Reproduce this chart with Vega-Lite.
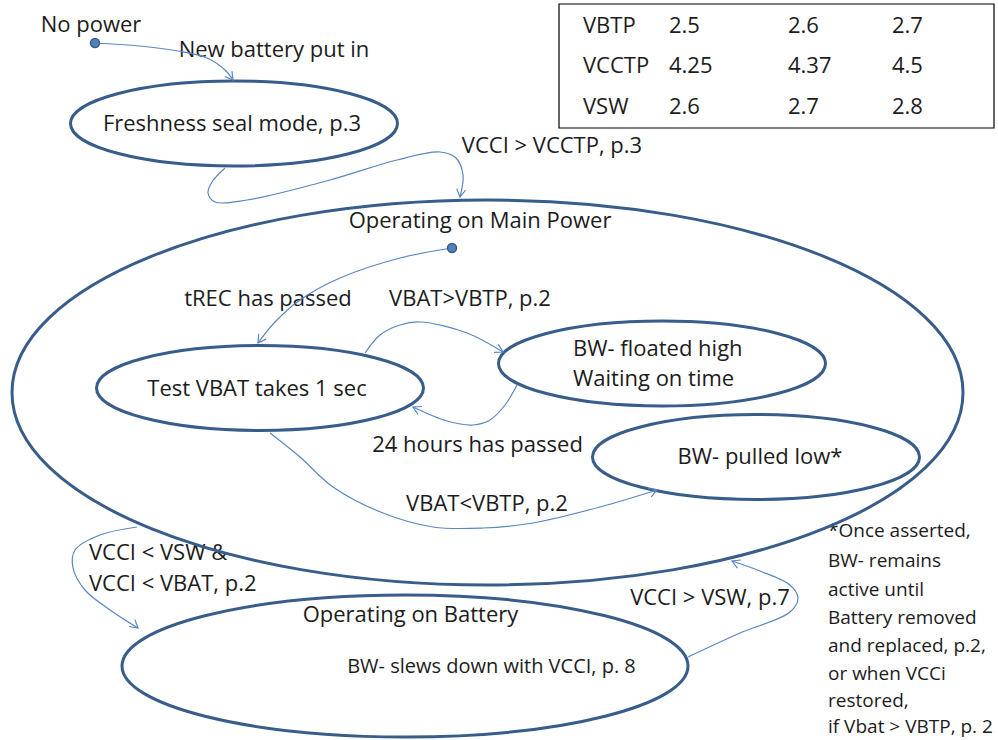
{
  "$schema": "https://vega.github.io/schema/vega-lite/v6.json",
  "width": 998,
  "height": 740,
  "autosize": {"type": "none"},
  "padding": 0,
  "background": "white",
  "config": {"view": {"stroke": null}},
  "datasets": {
    "states": [
      {"state": "Freshness seal mode", "x": 234, "y": 123.5},
      {"state": "Operating on Main Power", "x": 487.5, "y": 392.5},
      {"state": "Test VBAT", "x": 260, "y": 388},
      {"state": "BW- floated high", "x": 662, "y": 363.5},
      {"state": "BW- pulled low", "x": 756, "y": 457},
      {"state": "Operating on Battery", "x": 405, "y": 666}
    ],
    "starts": [
      {"name": "No power", "x": 95, "y": 43},
      {"name": "Main power entry", "x": 452, "y": 248}
    ],
    "arrows": [
      {"arrow": "a1", "i": 0, "x": 95, "y": 43},
      {"arrow": "a1", "i": 1, "x": 140, "y": 46},
      {"arrow": "a1", "i": 2, "x": 178, "y": 51},
      {"arrow": "a1", "i": 3, "x": 207, "y": 58},
      {"arrow": "a1", "i": 4, "x": 225, "y": 70},
      {"arrow": "a1", "i": 5, "x": 233, "y": 80},
      {"arrow": "a2", "i": 0, "x": 225, "y": 168},
      {"arrow": "a2", "i": 1, "x": 212, "y": 182},
      {"arrow": "a2", "i": 2, "x": 208, "y": 193},
      {"arrow": "a2", "i": 3, "x": 215, "y": 202},
      {"arrow": "a2", "i": 4, "x": 247, "y": 200},
      {"arrow": "a2", "i": 5, "x": 330, "y": 180},
      {"arrow": "a2", "i": 6, "x": 397, "y": 160},
      {"arrow": "a2", "i": 7, "x": 440, "y": 152},
      {"arrow": "a2", "i": 8, "x": 456, "y": 158},
      {"arrow": "a2", "i": 9, "x": 463, "y": 175},
      {"arrow": "a2", "i": 10, "x": 460, "y": 197},
      {"arrow": "a3", "i": 0, "x": 452, "y": 248},
      {"arrow": "a3", "i": 1, "x": 400, "y": 258},
      {"arrow": "a3", "i": 2, "x": 340, "y": 278},
      {"arrow": "a3", "i": 3, "x": 300, "y": 300},
      {"arrow": "a3", "i": 4, "x": 275, "y": 322},
      {"arrow": "a3", "i": 5, "x": 258, "y": 343},
      {"arrow": "a4", "i": 0, "x": 365, "y": 353},
      {"arrow": "a4", "i": 1, "x": 380, "y": 335},
      {"arrow": "a4", "i": 2, "x": 400, "y": 325},
      {"arrow": "a4", "i": 3, "x": 420, "y": 322},
      {"arrow": "a4", "i": 4, "x": 467, "y": 333},
      {"arrow": "a4", "i": 5, "x": 503, "y": 352},
      {"arrow": "a5", "i": 0, "x": 517, "y": 385},
      {"arrow": "a5", "i": 1, "x": 505, "y": 405},
      {"arrow": "a5", "i": 2, "x": 490, "y": 420},
      {"arrow": "a5", "i": 3, "x": 473, "y": 425},
      {"arrow": "a5", "i": 4, "x": 447, "y": 421},
      {"arrow": "a5", "i": 5, "x": 413, "y": 407},
      {"arrow": "a6", "i": 0, "x": 270, "y": 433},
      {"arrow": "a6", "i": 1, "x": 300, "y": 457},
      {"arrow": "a6", "i": 2, "x": 333, "y": 487},
      {"arrow": "a6", "i": 3, "x": 383, "y": 513},
      {"arrow": "a6", "i": 4, "x": 433, "y": 527},
      {"arrow": "a6", "i": 5, "x": 483, "y": 528},
      {"arrow": "a6", "i": 6, "x": 533, "y": 523},
      {"arrow": "a6", "i": 7, "x": 600, "y": 507},
      {"arrow": "a6", "i": 8, "x": 657, "y": 490},
      {"arrow": "a7", "i": 0, "x": 137, "y": 527},
      {"arrow": "a7", "i": 1, "x": 100, "y": 535},
      {"arrow": "a7", "i": 2, "x": 75, "y": 550},
      {"arrow": "a7", "i": 3, "x": 73, "y": 568},
      {"arrow": "a7", "i": 4, "x": 85, "y": 590},
      {"arrow": "a7", "i": 5, "x": 110, "y": 610},
      {"arrow": "a7", "i": 6, "x": 138, "y": 628},
      {"arrow": "a8", "i": 0, "x": 688, "y": 657},
      {"arrow": "a8", "i": 1, "x": 740, "y": 633},
      {"arrow": "a8", "i": 2, "x": 790, "y": 612},
      {"arrow": "a8", "i": 3, "x": 798, "y": 598},
      {"arrow": "a8", "i": 4, "x": 790, "y": 585},
      {"arrow": "a8", "i": 5, "x": 760, "y": 571},
      {"arrow": "a8", "i": 6, "x": 732, "y": 561}
    ],
    "heads": [
      {"arrow": "a1", "i": 0, "x": 231.9, "y": 71.1},
      {"arrow": "a1", "i": 1, "x": 233, "y": 80},
      {"arrow": "a1", "i": 2, "x": 224.7, "y": 76.5},
      {"arrow": "a2", "i": 0, "x": 465.6, "y": 190},
      {"arrow": "a2", "i": 1, "x": 460, "y": 197},
      {"arrow": "a2", "i": 2, "x": 456.7, "y": 188.6},
      {"arrow": "a3", "i": 0, "x": 266.1, "y": 339.1},
      {"arrow": "a3", "i": 1, "x": 258, "y": 343},
      {"arrow": "a3", "i": 2, "x": 258.7, "y": 334},
      {"arrow": "a4", "i": 0, "x": 498.3, "y": 344.4},
      {"arrow": "a4", "i": 1, "x": 503, "y": 352},
      {"arrow": "a4", "i": 2, "x": 494, "y": 352.3},
      {"arrow": "a5", "i": 0, "x": 418, "y": 414.5},
      {"arrow": "a5", "i": 1, "x": 413, "y": 407},
      {"arrow": "a5", "i": 2, "x": 422, "y": 406.5},
      {"arrow": "a6", "i": 0, "x": 648.1, "y": 488.5},
      {"arrow": "a6", "i": 1, "x": 657, "y": 490},
      {"arrow": "a6", "i": 2, "x": 651.3, "y": 496.9},
      {"arrow": "a7", "i": 0, "x": 134.9, "y": 619.6},
      {"arrow": "a7", "i": 1, "x": 138, "y": 628},
      {"arrow": "a7", "i": 2, "x": 129.1, "y": 626.5},
      {"arrow": "a8", "i": 0, "x": 737.4, "y": 568.2},
      {"arrow": "a8", "i": 1, "x": 732, "y": 561},
      {"arrow": "a8", "i": 2, "x": 740.9, "y": 560}
    ],
    "centeredText": [
      {"label": "No power", "x": 91, "y": 32},
      {"label": "New battery put in", "x": 274, "y": 57},
      {"label": "Freshness seal mode, p.3", "x": 232, "y": 131},
      {"label": "VCCI > VCCTP, p.3", "x": 552, "y": 153},
      {"label": "Operating on Main Power", "x": 480, "y": 228},
      {"label": "tREC has passed", "x": 268, "y": 306},
      {"label": "VBAT>VBTP, p.2", "x": 470, "y": 306},
      {"label": "Test VBAT takes 1 sec", "x": 257, "y": 396},
      {"label": "24 hours has passed", "x": 477.5, "y": 452},
      {"label": "BW- pulled low*", "x": 760, "y": 464},
      {"label": "VBAT<VBTP, p.2", "x": 487, "y": 511},
      {"label": "Operating on Battery", "x": 410.5, "y": 622},
      {"label": "VCCI > VSW, p.7", "x": 710, "y": 605}
    ],
    "leftText": [
      {"label": "BW- floated high", "x": 573, "y": 356},
      {"label": "Waiting on time", "x": 573, "y": 386},
      {"label": "VCCI < VSW &", "x": 89, "y": 560},
      {"label": "VCCI < VBAT, p.2", "x": 89, "y": 591}
    ],
    "slewNote": [
      {"label": "BW- slews down with VCCI, p. 8", "x": 491.5, "y": 673}
    ],
    "footnote": [
      {"label": "*Once asserted,", "x": 828, "y": 537},
      {"label": "BW- remains", "x": 828, "y": 567},
      {"label": "active until", "x": 828, "y": 596},
      {"label": "Battery removed", "x": 828, "y": 624},
      {"label": "and replaced, p.2,", "x": 828, "y": 652},
      {"label": "or when VCCi", "x": 828, "y": 680},
      {"label": "restored,", "x": 828, "y": 707},
      {"label": "if Vbat > VBTP, p. 2", "x": 828, "y": 733}
    ],
    "tableBox": [
      {"x": 559, "x2": 994, "y": 4, "y2": 128}
    ],
    "tableCells": [
      {"label": "VBTP", "x": 583, "y": 33},
      {"label": "2.5", "x": 669, "y": 33},
      {"label": "2.6", "x": 788, "y": 33},
      {"label": "2.7", "x": 892, "y": 33},
      {"label": "VCCTP", "x": 583, "y": 73},
      {"label": "4.25", "x": 669, "y": 73},
      {"label": "4.37", "x": 788, "y": 73},
      {"label": "4.5", "x": 892, "y": 73},
      {"label": "VSW", "x": 583, "y": 114},
      {"label": "2.6", "x": 669, "y": 114},
      {"label": "2.7", "x": 788, "y": 114},
      {"label": "2.8", "x": 892, "y": 114}
    ]
  },
  "encoding": {
    "x": {"field": "x", "type": "quantitative", "scale": {"domain": [0, 998], "nice": false, "zero": false}, "axis": null},
    "y": {"field": "y", "type": "quantitative", "scale": {"domain": [0, 740], "nice": false, "zero": false, "reverse": true}, "axis": null}
  },
  "layer": [
    {
      "data": {"name": "tableBox"},
      "mark": {"type": "rect", "fill": null, "stroke": "#000000", "strokeWidth": 1.2},
      "encoding": {"x2": {"field": "x2"}, "y2": {"field": "y2"}}
    },
    {
      "data": {"name": "centeredText"},
      "mark": {"type": "text", "font": "Open Sans", "fontSize": 22, "align": "center", "baseline": "alphabetic", "color": "#1c1c1c"},
      "encoding": {"text": {"field": "label"}}
    },
    {
      "data": {"name": "leftText"},
      "mark": {"type": "text", "font": "Open Sans", "fontSize": 22, "align": "left", "baseline": "alphabetic", "color": "#1c1c1c"},
      "encoding": {"text": {"field": "label"}}
    },
    {
      "data": {"name": "tableCells"},
      "mark": {"type": "text", "font": "Open Sans", "fontSize": 22, "align": "left", "baseline": "alphabetic", "color": "#1c1c1c"},
      "encoding": {"text": {"field": "label"}}
    },
    {
      "data": {"name": "slewNote"},
      "mark": {"type": "text", "font": "Open Sans", "fontSize": 20, "align": "center", "baseline": "alphabetic", "color": "#1c1c1c"},
      "encoding": {"text": {"field": "label"}}
    },
    {
      "data": {"name": "footnote"},
      "mark": {"type": "text", "font": "Open Sans", "fontSize": 19, "align": "left", "baseline": "alphabetic", "color": "#1c1c1c"},
      "encoding": {"text": {"field": "label"}}
    },
    {
      "data": {"name": "states"},
      "mark": {"type": "point", "filled": false, "size": 4, "strokeWidth": 3, "color": "#385D8A", "opacity": 1},
      "encoding": {
        "shape": {
          "field": "state",
          "type": "nominal",
          "legend": null,
          "scale": {
            "domain": ["Freshness seal mode", "Operating on Main Power", "Test VBAT", "BW- floated high", "BW- pulled low", "Operating on Battery"],
            "range": [
              "M163.5,0C163.5,23.5,90.3,42.5,0,42.5C-90.3,42.5,-163.5,23.5,-163.5,0C-163.5,-23.5,-90.3,-42.5,0,-42.5C90.3,-42.5,163.5,-23.5,163.5,0Z",
              "M475.5,0C475.5,106.3,262.6,192.5,0,192.5C-262.6,192.5,-475.5,106.3,-475.5,0C-475.5,-106.3,-262.6,-192.5,0,-192.5C262.6,-192.5,475.5,-106.3,475.5,0Z",
              "M163.5,0C163.5,23.5,90.3,42.5,0,42.5C-90.3,42.5,-163.5,23.5,-163.5,0C-163.5,-23.5,-90.3,-42.5,0,-42.5C90.3,-42.5,163.5,-23.5,163.5,0Z",
              "M163.5,0C163.5,23.5,90.3,42.5,0,42.5C-90.3,42.5,-163.5,23.5,-163.5,0C-163.5,-23.5,-90.3,-42.5,0,-42.5C90.3,-42.5,163.5,-23.5,163.5,0Z",
              "M163.5,0C163.5,23.5,90.3,42.5,0,42.5C-90.3,42.5,-163.5,23.5,-163.5,0C-163.5,-23.5,-90.3,-42.5,0,-42.5C90.3,-42.5,163.5,-23.5,163.5,0Z",
              "M283,0C283,39.2,156.3,71,0,71C-156.3,71,-283,39.2,-283,0C-283,-39.2,-156.3,-71,0,-71C156.3,-71,283,-39.2,283,0Z"
            ]
          }
        }
      }
    },
    {
      "data": {"name": "arrows"},
      "mark": {"type": "line", "interpolate": "catmull-rom", "color": "#5A86C2", "strokeWidth": 1.2},
      "encoding": {"detail": {"field": "arrow"}, "order": {"field": "i", "type": "quantitative"}}
    },
    {
      "data": {"name": "heads"},
      "mark": {"type": "line", "color": "#5A86C2", "strokeWidth": 1.2},
      "encoding": {"detail": {"field": "arrow"}, "order": {"field": "i", "type": "quantitative"}}
    },
    {
      "data": {"name": "starts"},
      "mark": {"type": "point", "shape": "circle", "filled": true, "size": 80, "color": "#4F81BD", "stroke": "#385D8A", "strokeWidth": 1.5, "opacity": 1}
    }
  ]
}
